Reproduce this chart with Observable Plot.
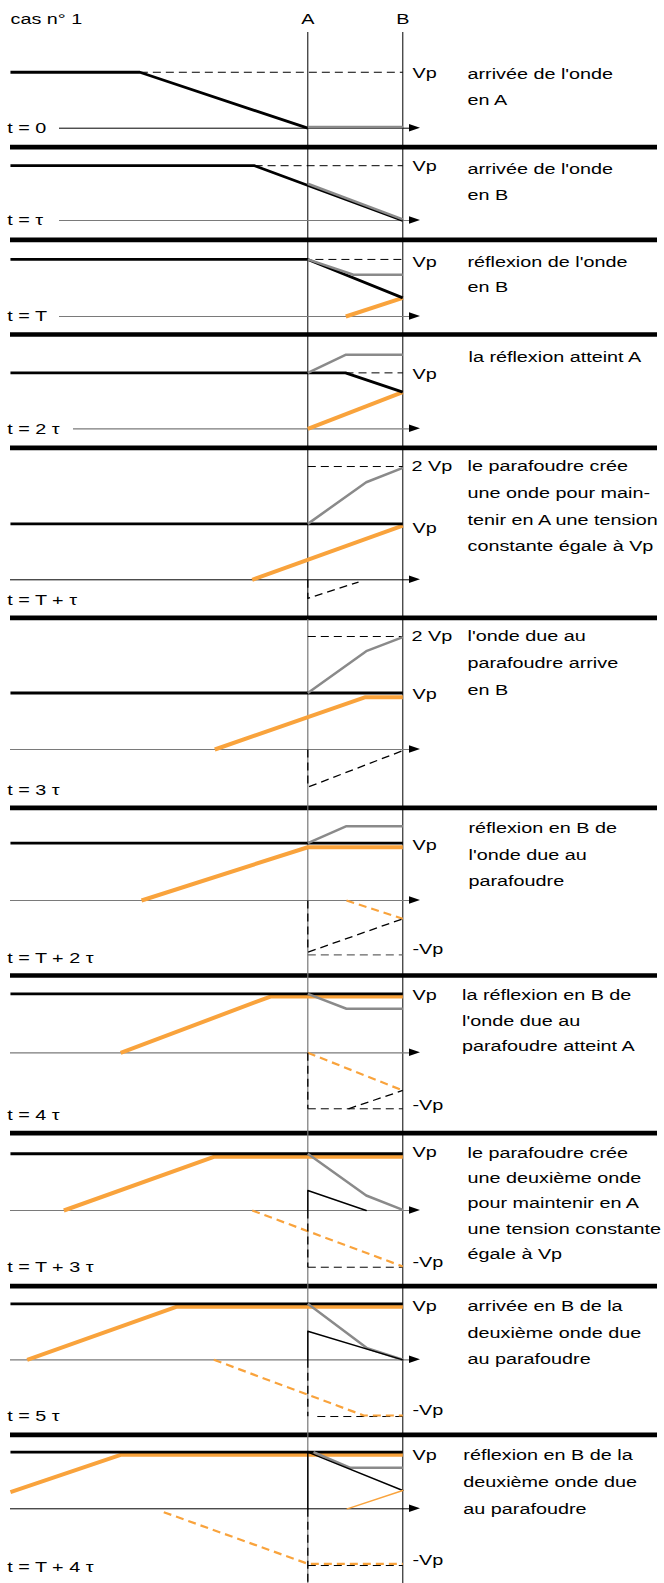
<!DOCTYPE html>
<html><head><meta charset="utf-8">
<script src="https://cdn.jsdelivr.net/npm/d3@7"></script>
<script src="https://cdn.jsdelivr.net/npm/@observablehq/plot@0.6"></script>
<style>html,body{margin:0;padding:0;background:#fff}#chart svg{display:block}</style>
</head><body><div id="chart"></div>
<script>
// ================= DATA (x in units of AB = τ, A = 0, B = 1; v in units of Vp) =================
const title = "cas n° 1";
const pointNames = ["A", "B"];
const timeLabels = ["t = 0", "t = τ", "t = T", "t = 2 τ", "t = T + τ", "t = 3 τ",
  "t = T + 2 τ", "t = 4 τ", "t = T + 3 τ", "t = 5 τ", "t = T + 4 τ"];
const captions = [
  ["arrivée de l'onde", "en A"],
  ["arrivée de l'onde", "en B"],
  ["réflexion de l'onde", "en B"],
  ["la réflexion atteint A"],
  ["le parafoudre crée", "une onde pour main-", "tenir en A une tension", "constante égale à Vp"],
  ["l'onde due au", "parafoudre arrive", "en B"],
  ["réflexion en B de", "l'onde due au", "parafoudre"],
  ["la réflexion en B de", "l'onde due au", "parafoudre atteint A"],
  ["le parafoudre crée", "une deuxième onde", "pour maintenir en A", "une tension constante", "égale à Vp"],
  ["arrivée en B de la", "deuxième onde due", "au parafoudre"],
  ["réflexion en B de la", "deuxième onde due", "au parafoudre"]
];
const levelLabels = [
  {panel: 0, text: "Vp", v: 0.973}, {panel: 1, text: "Vp", v: 0.956}, {panel: 2, text: "Vp", v: 0.961},
  {panel: 3, text: "Vp", v: 0.973}, {panel: 4, text: "2 Vp", v: 2.005}, {panel: 4, text: "Vp", v: 0.92},
  {panel: 5, text: "2 Vp", v: 2.0}, {panel: 5, text: "Vp", v: 0.986},
  {panel: 6, text: "Vp", v: 0.973}, {panel: 6, text: "-Vp", v: -0.867},
  {panel: 7, text: "Vp", v: 1.014}, {panel: 7, text: "-Vp", v: -0.933},
  {panel: 8, text: "Vp", v: 1.032}, {panel: 8, text: "-Vp", v: -0.915},
  {panel: 9, text: "Vp", v: 0.943}, {panel: 9, text: "-Vp", v: -0.897},
  {panel: 10, text: "Vp", v: 0.943}, {panel: 10, text: "-Vp", v: -0.903}
];
// incident wave (thick black)
const incidentWave = [
  {panel: 0, pts: [[-3.13, 0.99], [-1.768, 0.99], [0, 0]]},
  {panel: 1, pts: [[-3.13, 0.97], [-0.56, 0.97], [1, 0]]},
  {panel: 2, pts: [[-3.13, 1.01], [0, 1.01], [1, 0.33]]},
  {panel: 3, pts: [[-3.13, 0.99], [0.397, 0.99], [1, 0.648]]},
  {panel: 4, pts: [[-3.13, 0.99], [1, 0.99]]},
  {panel: 5, pts: [[-3.13, 1.0], [1, 1.0]]},
  {panel: 6, pts: [[-3.13, 1.014], [1, 1.014]]},
  {panel: 7, pts: [[-3.13, 1.044], [1, 1.044]]},
  {panel: 8, pts: [[-3.13, 1.004], [1, 1.004]]},
  {panel: 9, pts: [[-3.13, 0.991], [1, 0.991]]},
  {panel: 10, pts: [[-3.13, 1.002], [1, 1.002]]}
];
// resulting voltage on AB (grey)
const totalVoltage = [
  {panel: 0, pts: [[0, 0.02], [1, 0.02]]},
  {panel: 1, pts: [[0, 0.65], [1, 0.02]]},
  {panel: 2, pts: [[0, 1.01], [0.48, 0.738], [1, 0.738]]},
  {panel: 3, pts: [[0, 0.99], [0.397, 1.31], [1, 1.31]]},
  {panel: 4, pts: [[0, 0.99], [0.615, 1.727], [1, 1.982]]},
  {panel: 5, pts: [[0, 1.0], [0.615, 1.74], [1, 1.988]]},
  {panel: 6, pts: [[0, 1.014], [0.407, 1.315], [1, 1.315]]},
  {panel: 7, pts: [[0, 1.044], [0.407, 0.779], [1, 0.779]]},
  {panel: 8, pts: [[0, 1.004], [0.615, 0.265], [1, 0.01]]},
  {panel: 9, pts: [[0, 0.991], [0.625, 0.205], [1, 0]]},
  {panel: 10, pts: [[0.06, 1.002], [0.449, 0.726], [1, 0.726]]}
];
// reflected wave (thick orange)
const reflectedWave = [
  {panel: 2, pts: [[0.40, 0], [1, 0.33]]},
  {panel: 3, pts: [[0, 0], [1, 0.648]]},
  {panel: 4, pts: [[-0.585, 0], [1, 0.96]]},
  {panel: 5, pts: [[-0.979, 0], [0.607, 0.926], [1, 0.926]]},
  {panel: 6, pts: [[-1.75, 0], [0, 0.943], [1, 0.943]]},
  {panel: 7, pts: [[-1.97, 0], [-0.393, 0.996], [1, 0.996]]},
  {panel: 8, pts: [[-2.568, 0], [-0.989, 0.95], [1, 0.95]]},
  {panel: 9, pts: [[-2.954, 0], [-1.385, 0.938], [1, 0.938]]},
  {panel: 10, pts: [[-3.13, 0.294], [-1.97, 0.956], [1, 0.956]]}
];
// second arrester wave (thin black) and its reflection (thin orange)
const arresterThin = [
  {panel: 8, pts: [[0, 0], [0, 0.354], [0.615, 0]]},
  {panel: 9, pts: [[0, 0], [0, 0.506], [1, 0]]},
  {panel: 10, pts: [[0, 0], [0, 1.002], [1, 0.324]]}
];
const reflectedThin = [
  {panel: 10, pts: [[0.415, 0], [1, 0.324]]}
];
// arrester wave (black dashed)
const arresterDashed = [
  {panel: 4, pts: [[0, 0], [0, -0.33], [0.534, -0.04]]},
  {panel: 5, pts: [[0, 0], [0, -0.667], [1, -0.02]]},
  {panel: 6, pts: [[0, 0], [0, -0.915], [1, -0.324]]},
  {panel: 7, pts: [[0, 0], [0, -0.991]]},
  {panel: 7, pts: [[0.428, -0.991], [1, -0.667]]},
  {panel: 8, pts: [[0, 0], [0, -1.004]]},
  {panel: 9, pts: [[0, 0], [0, -1.0]]},
  {panel: 10, pts: [[0, 0], [0, -1.33]]}
];
// reflection of the arrester wave (orange dashed)
const reflectedDashed = [
  {panel: 6, pts: [[0.407, 0], [1, -0.324]]},
  {panel: 7, pts: [[0, 0], [1, -0.667]]},
  {panel: 8, pts: [[-0.585, 0], [1, -0.991]]},
  {panel: 9, pts: [[-0.989, 0], [0.589, -0.986], [1, -0.986]]},
  {panel: 10, pts: [[-1.516, -0.06], [0, -0.973], [1, -0.973]]}
];
// reference levels (dashed)
const levelDashed = [
  {panel: 0, pts: [[-1.768, 0.99], [1, 0.99]]},
  {panel: 1, pts: [[-0.56, 0.97], [1, 0.97]]},
  {panel: 2, pts: [[0.08, 1.01], [1, 1.01]]},
  {panel: 3, pts: [[0.397, 0.99], [1, 0.99]]},
  {panel: 4, pts: [[0, 2.005], [1, 2.005]]},
  {panel: 5, pts: [[0, 2.0], [1, 2.0]]},
  {panel: 7, pts: [[0, -0.991], [1, -0.991]]},
  {panel: 8, pts: [[0, -1.004], [1, -1.004]]},
  {panel: 9, pts: [[0.1, -1.004], [1, -1.004]]},
  {panel: 10, pts: [[0, -1.004], [1, -1.004]]}
];
const levelGrayDashed = [
  {panel: 6, pts: [[0, -0.961], [1, -0.961]]}
];

// ================= LAYOUT (pixels) =================
const W = 664, H = 1583;
const XA = 307.3, TAU_PX = 95, VP_PX = 56.5;
const panelBase = [127.7, 220, 316, 428.3, 579.3, 749, 900, 1052.3, 1210, 1359.3, 1508.3];
const separatorY = [146.7, 239.3, 334, 447.3, 617.3, 807.3, 975, 1132.7, 1285.7, 1434.3];
const axisStartPx = [59, 59, 59, 73, 10, 10, 10, 10, 10, 10, 10];
const axisDark = [true, false, false, false, true, false, false, false, false, false, true];
const timeLabelY = [127.7, 220, 316, 428.3, 599.3, 789.3, 957.7, 1114.3, 1266.7, 1415.7, 1566.7];
const captionX = [467, 467, 467, 468, 467, 467, 468, 461.5, 467, 467, 462.8];
const captionY = [74, 169, 262, 356.7, 466, 636, 827.7, 994.3, 1152.7, 1306, 1455];
const captionGap = [26, 26, 25, 26, 26.7, 26.7, 26.7, 25.9, 25.2, 26.2, 26.7];
const levelLabelX = {"Vp": 412, "2 Vp": 411, "-Vp": 412};
const LEFT_PX = 10, SEP_RIGHT_PX = 657, AXIS_END_PX = 409, ARROW_TIP_PX = 420, ARROW_HALF = 3.8;
const TEXT_STRETCH = 1.32;
const ORANGE = "#f9a33c", GREY = "#8a8a8a", AXIS_GREY = "#7a7a7a";

const u = px => (px - XA) / TAU_PX;
const yOf = (p, v) => panelBase[p] - v * VP_PX;

function rows(series) {
  const out = [];
  series.forEach((s, k) => s.pts.forEach(([x, v]) => out.push({id: k, x, y: yOf(s.panel, v)})));
  return out;
}
const lineMark = (series, opts) =>
  Plot.line(rows(series), {x: "x", y: "y", z: "id", curve: "linear", ...opts});

const axes = panelBase.map((b, p) => ({y: b, x1: u(axisStartPx[p]), x2: u(AXIS_END_PX), dark: axisDark[p]}));
const arrowRows = [];
panelBase.forEach((b, p) => {
  arrowRows.push({id: p, x: u(AXIS_END_PX), y1: b - ARROW_HALF, y2: b + ARROW_HALF});
  arrowRows.push({id: p, x: u(ARROW_TIP_PX), y1: b, y2: b});
});
const captionRows = [];
captions.forEach((lines, p) => lines.forEach((t, i) =>
  captionRows.push({x: u(captionX[p]), y: captionY[p] + i * captionGap[p], text: t})));
const timeRows = timeLabels.map((t, p) => ({x: u(6.7), y: timeLabelY[p], text: t}));
const levelRows = levelLabels.map(d => ({x: u(levelLabelX[d.text]), y: yOf(d.panel, d.v), text: d.text}));
const headRows = [{x: u(LEFT_PX), y: 18.7, text: title, anchor: "start"}]
  .concat(pointNames.map((n, i) => ({x: i, y: 18.7, text: n, anchor: "middle"})));

const textStyle = {fontFamily: "Liberation Sans, Arial, sans-serif", fontSize: 15, fill: "#000"};
const dash = {strokeDasharray: "8,5", strokeLinecap: "butt"};

const chart = Plot.plot({
  width: W, height: H,
  marginTop: 0, marginRight: 0, marginBottom: 0, marginLeft: 0,
  x: {domain: [u(0), u(W)], range: [0, W], axis: null},
  y: {domain: [0, H], range: [0, H], axis: null},
  style: {background: "#fff"},
  marks: [
    Plot.ruleY(separatorY, {x1: u(LEFT_PX), x2: u(SEP_RIGHT_PX), stroke: "#000", strokeWidth: 4.7}),
    Plot.ruleX([0], {y1: 32, y2: 619, stroke: "#000", strokeWidth: 1}),
    Plot.ruleX([0], {y1: 619, y2: H, stroke: "#777", strokeWidth: 1.2}),
    Plot.ruleX([1], {y1: 32, y2: H, stroke: "#000", strokeWidth: 1}),
    Plot.ruleY(axes.filter(d => d.dark), {y: "y", x1: "x1", x2: "x2", stroke: "#000", strokeWidth: 1}),
    Plot.ruleY(axes.filter(d => !d.dark), {y: "y", x1: "x1", x2: "x2", stroke: AXIS_GREY, strokeWidth: 1.2}),
    Plot.areaY(arrowRows, {x: "x", y1: "y1", y2: "y2", z: "id", fill: "#000", curve: "linear"}),
    lineMark(levelDashed, {stroke: "#000", strokeWidth: 1, ...dash}),
    lineMark(levelGrayDashed, {stroke: "#666", strokeWidth: 1.3, ...dash}),
    lineMark(reflectedDashed, {stroke: ORANGE, strokeWidth: 2.2, ...dash}),
    lineMark(arresterDashed, {stroke: "#000", strokeWidth: 1.3, ...dash}),
    lineMark(reflectedWave, {stroke: ORANGE, strokeWidth: 4, strokeLinecap: "butt"}),
    lineMark(incidentWave, {stroke: "#000", strokeWidth: 2.8, strokeLinecap: "butt"}),
    lineMark(totalVoltage, {stroke: GREY, strokeWidth: 2.5, strokeLinecap: "butt"}),
    lineMark(arresterThin, {stroke: "#000", strokeWidth: 1.4}),
    lineMark(reflectedThin, {stroke: ORANGE, strokeWidth: 1.4}),
    Plot.text(headRows, {x: "x", y: "y", text: "text", textAnchor: "start", filter: d => d.anchor === "start", ...textStyle}),
    Plot.text(headRows, {x: "x", y: "y", text: "text", textAnchor: "middle", filter: d => d.anchor === "middle", ...textStyle}),
    Plot.text(timeRows, {x: "x", y: "y", text: "text", textAnchor: "start", ...textStyle}),
    Plot.text(levelRows, {x: "x", y: "y", text: "text", textAnchor: "start", ...textStyle}),
    Plot.text(captionRows, {x: "x", y: "y", text: "text", textAnchor: "start", ...textStyle})
  ]
});

// the reference typeface is horizontally stretched
chart.querySelectorAll('g[aria-label="text"] text').forEach(t => {
  const tr = t.getAttribute("transform");
  if (tr) t.setAttribute("transform", tr + ` scale(${TEXT_STRETCH},1)`);
  else {
    const x = +t.getAttribute("x") || 0, y = +t.getAttribute("y") || 0;
    t.removeAttribute("x"); t.removeAttribute("y");
    t.setAttribute("transform", `translate(${x},${y}) scale(${TEXT_STRETCH},1)`);
  }
});
document.getElementById("chart").append(chart);
</script>
</body></html>
